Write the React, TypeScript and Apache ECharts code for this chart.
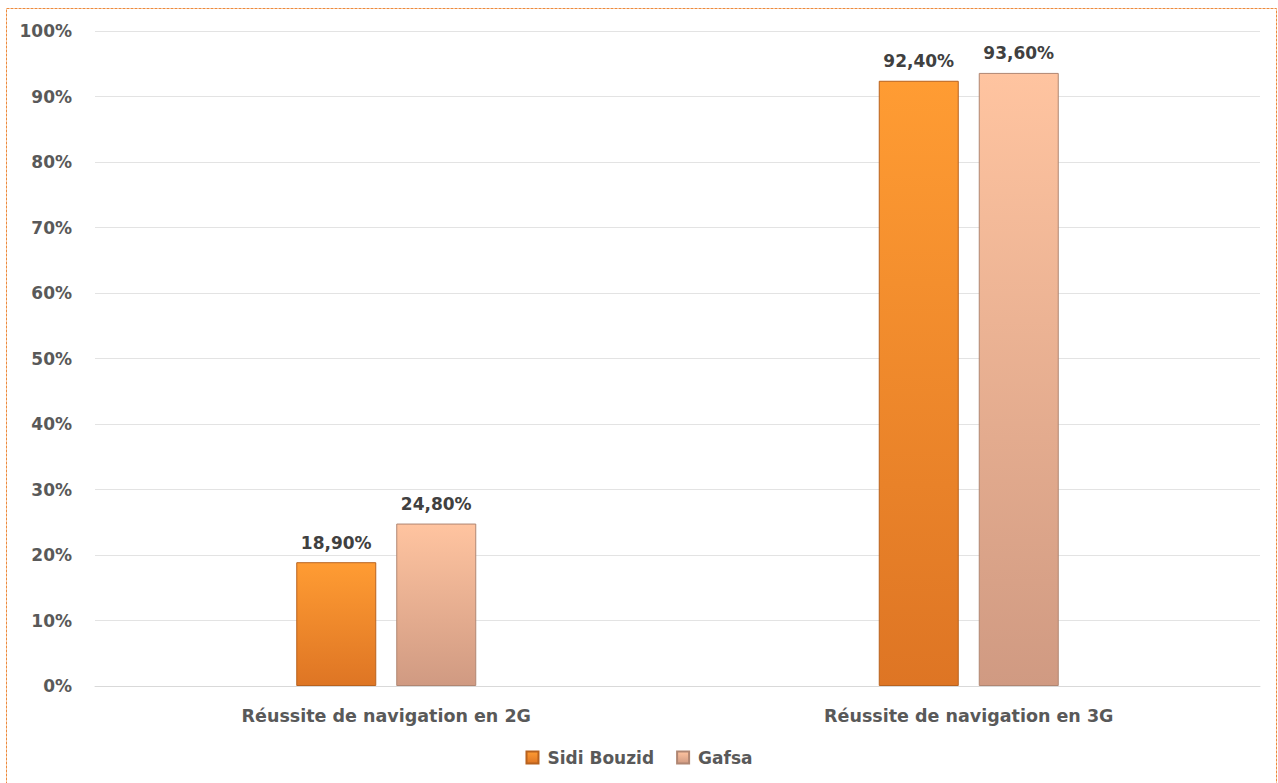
import React, { useEffect, useRef } from "react";
import * as echarts from "echarts";

const categories = ["Réussite de navigation en 2G", "Réussite de navigation en 3G"];
const sidiBouzid = [18.9, 92.4];
const gafsa = [24.8, 93.6];
const seriesNames = ["Sidi Bouzid", "Gafsa"];

const FONT = "DejaVu Sans";

const fmt = (v: number) => v.toFixed(2).replace(".", ",") + "%";

export default function App() {
  const ref = useRef<HTMLDivElement>(null);
  useEffect(() => {
    if (!ref.current) return;
    const chart = echarts.init(ref.current, undefined, { renderer: "svg" });
    const sidiGrad = new echarts.graphic.LinearGradient(0, 0, 0, 1, [
      { offset: 0, color: "#FF9C33" },
      { offset: 1, color: "#DE7524" },
    ]);
    const gafsaGrad = new echarts.graphic.LinearGradient(0, 0, 0, 1, [
      { offset: 0, color: "#FFC4A0" },
      { offset: 1, color: "#D09A82" },
    ]);
    const label = {
      show: true,
      position: "top" as const,
      distance: 11,
      fontFamily: FONT,
      fontWeight: "bold" as const,
      fontSize: 17,
      color: "#404040",
      formatter: (p: any) => fmt(p.value),
    };
    chart.setOption({
      animation: false,
      backgroundColor: "#ffffff",
      graphic: [
        {
          type: "rect",
          shape: { x: 6.5, y: 8.5, width: 1270, height: 800 },
          style: { fill: "none", stroke: "#ED8A3C", lineWidth: 1, lineDash: [3, 1] },
          silent: true,
        },
      ],
      grid: { left: 95, right: 18, top: 31, bottom: 97, containLabel: false },
      legend: {
        data: seriesNames,
        bottom: 12,
        left: "center",
        icon: "rect",
        itemWidth: 12,
        itemHeight: 12,
        itemGap: 22,
        textStyle: {
          fontFamily: FONT,
          fontWeight: "bold",
          fontSize: 17,
          color: "#595959",
          padding: [0, 0, 0, 4],
        },
      },
      xAxis: {
        type: "category",
        data: categories,
        axisTick: { show: false },
        axisLine: { lineStyle: { color: "#D9D9D9", width: 1 } },
        axisLabel: {
          margin: 21,
          fontFamily: FONT,
          fontWeight: "bold",
          fontSize: 17.5,
          color: "#595959",
        },
      },
      yAxis: {
        type: "value",
        min: 0,
        max: 100,
        interval: 10,
        axisLine: { show: false },
        axisTick: { show: false },
        splitLine: { lineStyle: { color: "#E3E3E3", width: 1 } },
        axisLabel: {
          margin: 23,
          formatter: "{value}%",
          fontFamily: FONT,
          fontWeight: "bold",
          fontSize: 17,
          color: "#595959",
        },
      },
      series: [
        {
          name: seriesNames[0],
          type: "bar",
          data: sidiBouzid,
          barWidth: 80,
          barGap: "25%",
          itemStyle: { color: sidiGrad, borderColor: "#B8621E", borderWidth: 1 },
          label,
        },
        {
          name: seriesNames[1],
          type: "bar",
          data: gafsa,
          barWidth: 80,
          itemStyle: { color: gafsaGrad, borderColor: "#B08672", borderWidth: 1 },
          label,
        },
      ],
    });
    return () => chart.dispose();
  }, []);
  return (
    <div
      ref={ref}
      style={{ position: "fixed", left: 0, top: 0, width: 1278, height: 783 }}
    />
  );
}
